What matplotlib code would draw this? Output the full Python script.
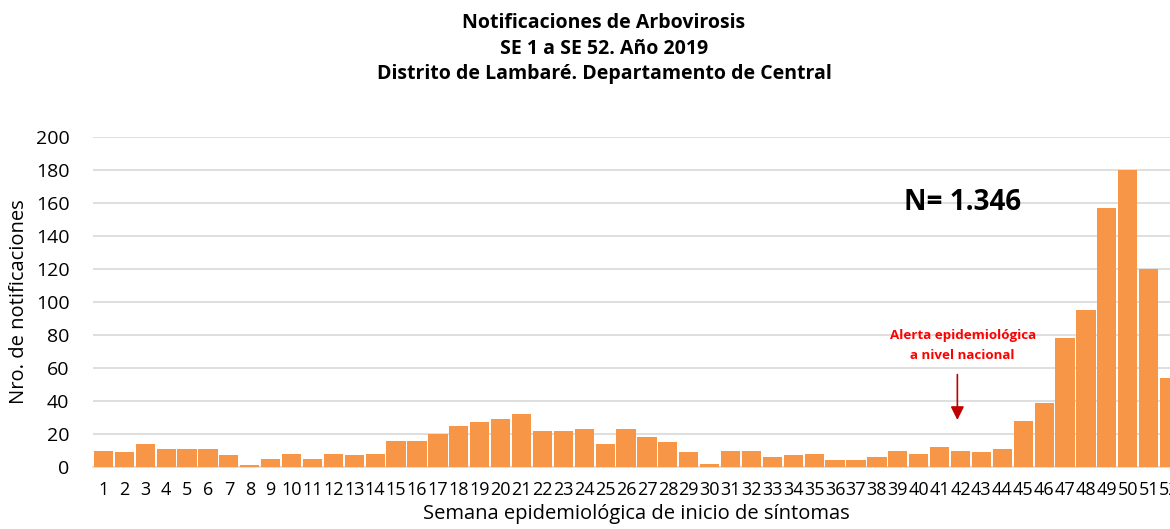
import matplotlib
matplotlib.use("Agg")
import matplotlib.pyplot as plt

weeks = list(range(1, 53))
counts = [10, 9, 14, 11, 11, 11, 7, 1, 5, 8,
          5, 8, 7, 8, 16, 16, 20, 25, 27, 29,
          32, 22, 22, 23, 14, 23, 18, 15, 9, 2,
          10, 10, 6, 7, 8, 4, 4, 6, 10, 8,
          12, 10, 9, 11, 28, 39, 78, 95, 157, 180,
          120, 54]
yticks = [0, 20, 40, 60, 80, 100, 120, 140, 160, 180, 200]
title_lines = ["Notificaciones de Arbovirosis",
               "SE 1 a SE 52. Año 2019",
               "Distrito de Lambaré. Departamento de Central"]

plt.rcParams['font.family'] = ['Open Sans', 'DejaVu Sans']

fig = plt.figure(figsize=(11.7, 5.29), dpi=100)
W, H = 1170, 529
left_px, right_px = 93, 1180
top_px, bot_px = 137, 467
ax = fig.add_axes([left_px / W, 1 - bot_px / H, (right_px - left_px) / W, (bot_px - top_px) / H])

ax.bar(weeks, counts, width=0.92, color="#F79646", edgecolor="none", zorder=3)
ax.set_xlim(0.5, 52.5)
ax.set_ylim(0, 200)
ax.set_yticks(yticks)
ax.set_xticks(weeks)
ax.set_xticklabels([str(w) for w in weeks], fontsize=13)
ax.tick_params(axis='y', labelsize=14, length=0, pad=17)
ax.tick_params(axis='x', length=0, pad=10)
ax.grid(axis='y', color="#D9D9D9", linewidth=1.2, zorder=0)
for s in ["top", "right", "left"]:
    ax.spines[s].set_visible(False)
ax.spines["bottom"].set_color("#D9D9D9")
ax.spines["bottom"].set_linewidth(1.2)
ax.set_axisbelow(True)

ax.set_ylabel("Nro. de notificaciones", fontsize=14.5, labelpad=5)
ax.set_xlabel("Semana epidemiológica de inicio de síntomas", fontsize=14.5, labelpad=4)

for i, line in enumerate(title_lines):
    fig.text(604 / W, 1 - (23 + i * 25.5) / H, line, ha="center", va="center",
             fontsize=14, fontweight="bold")

ax.text(42.1, 160, "N= 1.346", ha="center", va="center", fontsize=20, fontweight="bold")
ax.text(42.1, 80, "Alerta epidemiológica", ha="center", va="center", fontsize=9.6,
        fontweight="bold", color="#FF0000")
ax.text(42.1, 67.5, "a nivel nacional", ha="center", va="center", fontsize=9.6,
        fontweight="bold", color="#FF0000")
ax.annotate("", xy=(41.85, 28.5), xytext=(41.85, 56),
            arrowprops=dict(arrowstyle="-|>", color="#C00000", lw=1.2,
                            mutation_scale=20, shrinkA=0, shrinkB=0))

fig.savefig("out.png", dpi=100)
